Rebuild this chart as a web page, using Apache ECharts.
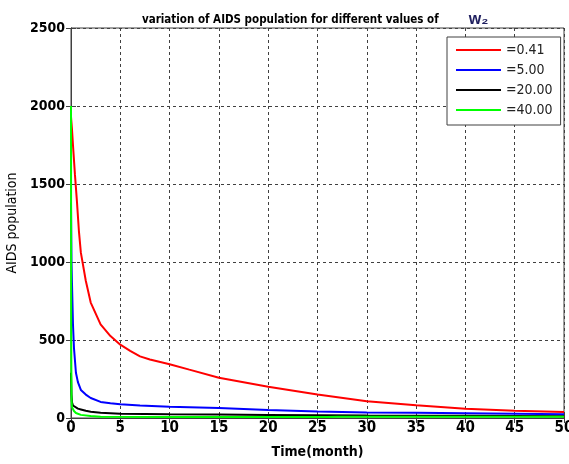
<!DOCTYPE html>
<html>
<head>
<meta charset="utf-8">
<script src="https://cdn.jsdelivr.net/npm/echarts@6/dist/echarts.min.js"></script>
<style>
  html, body { margin: 0; padding: 0; background: #fff; }
  #chart { width: 569px; height: 464px; }
</style>
</head>
<body>
<div id="chart"></div>
<script>
// values (time in months, AIDS population)
const seriesNames = ['=0.41', '=5.00', '=20.00', '=40.00']
const seriesColors = ['#ff0000', '#0000ff', '#000000', '#00ff00']

const redTime = [0, 0.1, 0.2, 0.4, 0.6, 0.8, 1, 1.5, 2, 3, 4, 5, 6, 7, 8, 10, 12, 15, 20, 25, 30, 35, 40, 45, 50]
const redValue = [1930, 1850, 1750, 1560, 1390, 1200, 1060, 880, 740, 600, 525, 470, 430, 395, 375, 345, 310, 258, 200, 150, 108, 82, 60, 46, 38]

const blueTime = [0, 0.05, 0.1, 0.2, 0.3, 0.5, 0.7, 1, 1.5, 2, 3, 4, 5, 7, 10, 15, 20, 25, 30, 35, 40, 45, 50]
const blueValue = [1380, 1000, 860, 600, 450, 290, 230, 180, 150, 128, 103, 95, 88, 80, 72, 64, 52, 42, 36, 33, 30, 27, 24]

const blackTime = [0, 0.05, 0.1, 0.2, 0.4, 0.7, 1, 1.5, 2, 3, 5, 10, 15, 20, 25, 30, 40, 50]
const blackValue = [290, 150, 100, 80, 68, 60, 55, 46, 40, 33, 28, 24, 22, 20, 18, 16, 14, 12]

const greenTime = [0, 0.02, 0.05, 0.1, 0.3, 0.5, 1, 2, 3, 10, 26, 27, 50]
const greenValue = [2000, 500, 120, 70, 45, 32, 20, 13, 8, 7, 6, 8, 8]

const xTicks = [0, 50, 5]      // min, max, interval
const yTicks = [0, 2500, 500]

const allTimes = [redTime, blueTime, blackTime, greenTime]
const allValues = [redValue, blueValue, blackValue, greenValue]

const font = "'Liberation Sans Narrow', 'DejaVu Sans Condensed', Arial, sans-serif"
const axisColor = '#404040'

const chart = echarts.init(document.getElementById('chart'))

function pairs(ts, vs) {
  return ts.map((t, i) => [t, vs[i]])
}

const baseX = {
  type: 'value',
  min: xTicks[0],
  max: xTicks[1],
  interval: xTicks[2],
  axisLine: { show: true, lineStyle: { color: axisColor, width: 1 } },
  axisTick: { show: true, inside: true, length: 5, lineStyle: { color: axisColor } },
  splitLine: { show: false }
}
const baseY = {
  type: 'value',
  min: yTicks[0],
  max: yTicks[1],
  interval: yTicks[2],
  axisLine: { show: true, lineStyle: { color: axisColor, width: 1 } },
  axisTick: { show: true, inside: true, length: 5, lineStyle: { color: axisColor } },
  splitLine: { show: false }
}

const option = {
  animation: false,
  color: seriesColors,
  title: {
    left: 137,
    top: 6,
    text: '{a|variation of AIDS population for different values of}      {b|w₂}',
    textStyle: {
      rich: {
        a: { fontFamily: font, fontWeight: 'bold', fontSize: 11.5, color: '#000' },
        b: { fontFamily: 'Arial, sans-serif', fontSize: 16, color: '#202060' }
      }
    }
  },
  grid: {
    left: 71,
    right: 5,
    top: 28,
    bottom: 46,
    outerBoundsMode: 'none',
    containLabel: false,
    show: true,
    borderColor: axisColor,
    borderWidth: 1,
    backgroundColor: '#fff'
  },
  legend: {
    orient: 'vertical',
    left: 447,
    top: 37,
    padding: [6, 8, 8, 9],
    itemWidth: 45,
    itemHeight: 2,
    itemGap: 6,
    itemTextGap: 7,
    icon: 'rect',
    backgroundColor: '#fff',
    borderColor: axisColor,
    borderWidth: 1,
    borderRadius: 0,
    textStyle: { fontFamily: font, fontSize: 14, color: '#222' },
    data: seriesNames
  },
  xAxis: [
    Object.assign({}, baseX, {
      position: 'bottom',
      name: 'Time(month)',
      nameLocation: 'middle',
      nameGap: 27,
      nameTextStyle: { fontFamily: font, fontWeight: 'bold', fontSize: 14, color: '#000' },
      axisLabel: { margin: 3, fontFamily: font, fontWeight: 'bold', fontSize: 15, color: '#000' },
      splitLine: { show: true, lineStyle: { color: axisColor, type: [3, 3], width: 1 } }
    }),
    Object.assign({}, baseX, { position: 'top', axisLabel: { show: false } })
  ],
  yAxis: [
    Object.assign({}, baseY, {
      position: 'left',
      name: 'AIDS population',
      nameLocation: 'middle',
      nameGap: 40,
      nameTextStyle: { fontFamily: font, fontSize: 14, color: '#000' },
      axisLabel: {
        margin: 6,
        fontFamily: font,
        fontWeight: 'bold',
        fontSize: 14,
        color: '#000',
        formatter: v => String(v)
      },
      splitLine: { show: true, lineStyle: { color: axisColor, type: [3, 3], width: 1 } }
    }),
    Object.assign({}, baseY, { position: 'right', axisLabel: { show: false } })
  ],
  series: seriesNames.map((name, i) => ({
    name: name,
    type: 'line',
    showSymbol: false,
    symbol: 'none',
    lineStyle: { width: 2, color: seriesColors[i] },
    itemStyle: { color: seriesColors[i] },
    data: pairs(allTimes[i], allValues[i])
  }))
}

chart.setOption(option)
</script>
</body>
</html>
